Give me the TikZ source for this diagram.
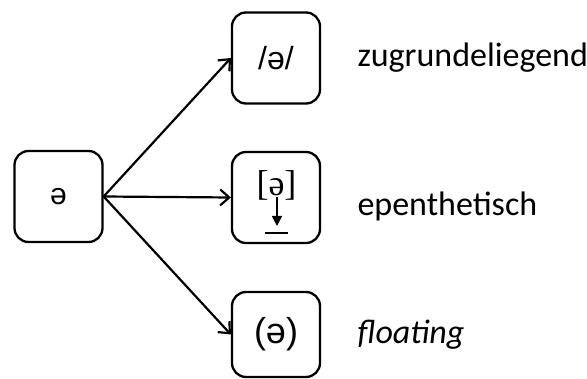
\documentclass[tikz,border=0pt]{standalone}
\usepackage{fontspec}
\setmainfont{Carlito}
\newfontfamily\ipasans{Liberation Sans}
\newfontfamily\ipaserif{Liberation Serif}
\usetikzlibrary{arrows.meta}
\tikzset{
    segbox/.style={draw, line width=2.3pt, rounded corners=14pt, minimum width=88pt, minimum height=91pt, inner sep=0pt},
    branch/.style={line width=2.2pt, -{Straight Barb[length=9pt, width=16pt, line width=2.2pt]}},
    gloss/.style={anchor=west, font=\fontsize{34}{40}\selectfont}
}

\begin{document}
\begin{tikzpicture}[x=1pt, y=-1pt]
    \useasboundingbox (0, 0) rectangle (587, 379);
    \node[segbox, font=\ipasans\fontsize{30}{34}\selectfont] (schwa) at (58.5, 196.5) {ə};
    \node[segbox, font=\ipasans\fontsize{32}{36}\selectfont] (under) at (276, 58) {/ə/};
    \node[segbox] (epen) at (276, 197.5) {};
    \node[segbox, minimum height=85pt, font=\ipasans\fontsize{36}{40}\selectfont] (float) at (276, 334.5) {(ə)};
    % epenthetic mark inside the middle box
    \node[font=\ipaserif\fontsize{36}{40}\selectfont] (epenipa) at (276.5, 185) {[ə]};
    \coordinate (tipend) at (277, 226);
    \draw[-{Triangle[length=10pt, width=10pt]}, line width=1.6pt] (epenipa.south -| tipend) ++(0, -6) -- (tipend);
    \draw[line width=2.2pt] (265, 233) -- (288, 233);
    \draw[branch] (schwa.east) -- (under.west);
    \draw[branch] (schwa.east) -- (epen.west);
    \draw[branch] (schwa.east) -- (float.west);
    \node[gloss] (lunder) at (354, 58) {zugrundeliegend};
    \node[gloss] (lepen) at (354, 206) {epenthetisch};
    \node[gloss, font=\itshape\fontsize{34}{40}\selectfont] (lfloat) at (354, 335) {floating};
\end{tikzpicture}
\end{document}
